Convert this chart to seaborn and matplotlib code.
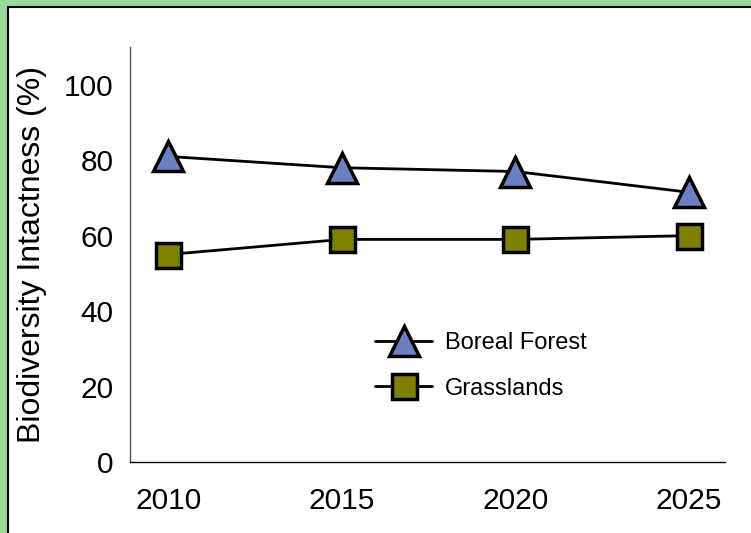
import matplotlib
matplotlib.use("Agg")
import matplotlib.pyplot as plt
import seaborn as sns
import pandas as pd
from matplotlib.patches import Rectangle

years = [2010, 2015, 2020, 2025]
boreal_forest = [81, 78, 77, 71.5]
grasslands = [55, 59, 59, 60]
series_names = ["Boreal Forest", "Grasslands"]
y_ticks = [0, 20, 40, 60, 80, 100]

sns.set_theme(style="white")
plt.rcParams['font.family'] = ['Liberation Sans', 'DejaVu Sans']
plt.rcParams['text.color'] = 'black'

fig = plt.figure(figsize=(7.51, 5.33), dpi=100)
fig.patch.set_facecolor('#98DA98')
frame = Rectangle((7.5/751, -0.1), 1.2, 1 - 7.5/533 + 0.1, transform=fig.transFigure,
                  facecolor='white', edgecolor='black', linewidth=1.5, zorder=-10)
fig.add_artist(frame)

ax = fig.add_axes([130/751, 71/533, 595/751, 415/533])
ax.set_zorder(1)
ax.set_facecolor('none')

df = pd.DataFrame({"year": years * 2,
                   "value": boreal_forest + grasslands,
                   "series": [series_names[0]] * 4 + [series_names[1]] * 4})

sns.lineplot(data=df[df.series == series_names[0]], x="year", y="value", ax=ax,
             color='black', linewidth=2.0, marker='^', markersize=21,
             markerfacecolor='#6A80C2', markeredgecolor='black', markeredgewidth=2.5,
             label=series_names[0])
sns.lineplot(data=df[df.series == series_names[1]], x="year", y="value", ax=ax,
             color='black', linewidth=2.0, marker='s', markersize=18,
             markerfacecolor='#808000', markeredgecolor='black', markeredgewidth=2.5,
             label=series_names[1])

ax.set_xlim(2008.9, 2026.04)
ax.set_ylim(0, 110)
ax.set_xticks(years)
ax.set_xticklabels([str(y) for y in years])
ax.set_yticks(y_ticks)
ax.set_xlabel("")
ax.set_ylabel("Biodiversity Intactness (%)", fontsize=23, labelpad=12, color='black')

for s in ['top', 'right']:
    ax.spines[s].set_visible(False)
for s in ['left', 'bottom']:
    ax.spines[s].set_color('#555555')
    ax.spines[s].set_linewidth(1.0)
ax.spines['bottom'].set_color('black')
ax.tick_params(axis='both', which='major', labelsize=21.5, direction='out',
               length=5, width=1, color='#555555', labelcolor='black', pad=7)
ax.tick_params(axis='x', pad=13)

leg = ax.legend(loc='center', bbox_to_anchor=(0.59, 0.232), frameon=False,
                fontsize=17, handlelength=2.4, handletextpad=0.55, labelspacing=1.0)
for t in leg.get_texts():
    t.set_color('black')

fig.savefig("out.png", dpi=100, facecolor=fig.get_facecolor())
